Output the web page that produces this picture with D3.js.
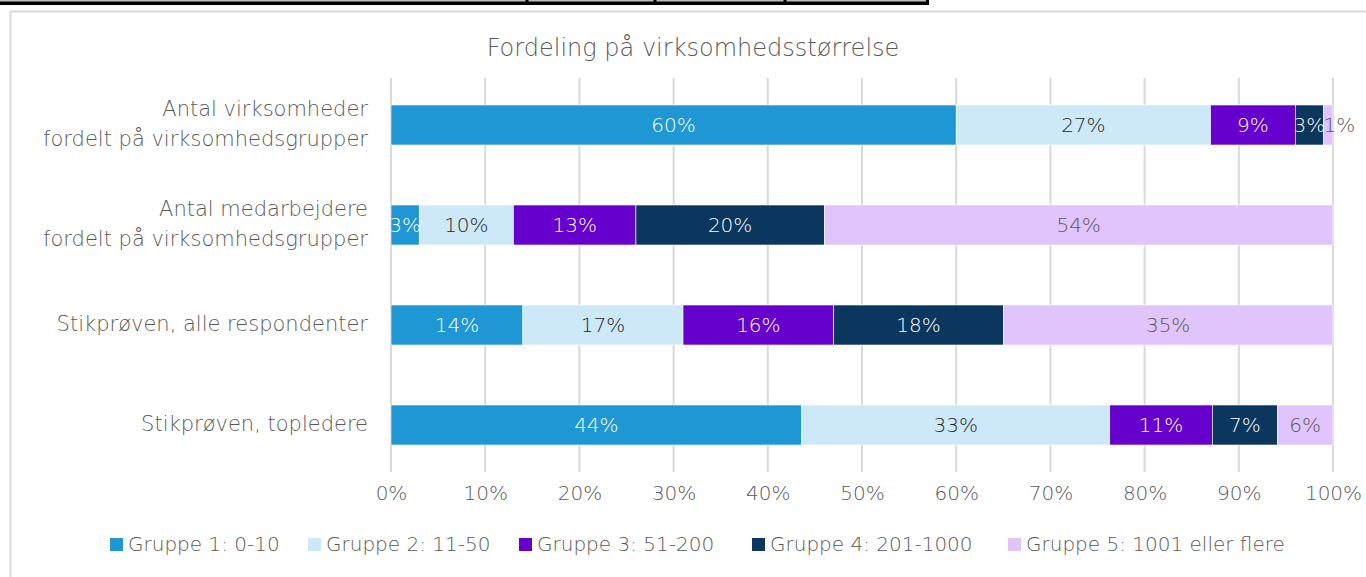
<!DOCTYPE html>
<html><head><meta charset="utf-8">
<script src="https://cdn.jsdelivr.net/npm/d3@7"></script>
<style>
html,body{margin:0;padding:0;background:#fff;}
svg{display:block;}
text{font-family:"DejaVu Sans",sans-serif;font-weight:200;}
</style></head>
<body><svg id="c" width="1366" height="577"></svg>
<script>
const title = "Fordeling på virksomhedsstørrelse";
const categories = [
  ["Antal virksomheder","fordelt på virksomhedsgrupper"],
  ["Antal medarbejdere","fordelt på virksomhedsgrupper"],
  ["Stikprøven, alle respondenter"],
  ["Stikprøven, topledere"]
];
const seriesNames = ["Gruppe 1: 0-10","Gruppe 2: 11-50","Gruppe 3: 51-200","Gruppe 4: 201-1000","Gruppe 5: 1001 eller flere"];
const gruppe1 = [60, 3, 14, 43.6];
const gruppe2 = [27, 10, 17, 32.7];
const gruppe3 = [9, 13, 16, 10.9];
const gruppe4 = [3, 20, 18, 6.9];
const gruppe5 = [1, 54, 35, 5.9];
const tickValues = [0,0.1,0.2,0.3,0.4,0.5,0.6,0.7,0.8,0.9,1];
const colors = ["#1f97d4","#cde9f8","#6600cc","#0b365e","#e0c4fb"];
const labelColors = ["#ffffff","#262626","#ffffff","#ffffff","#595959"];

const svg = d3.select("#c");

// top table fragment
svg.append("rect").attr("x",0).attr("y",0).attr("width",929).attr("height",5).attr("fill","#000");
svg.append("rect").attr("x",0).attr("y",0).attr("width",929).attr("height",1.5).attr("fill","#bdbdbd");
[527,655,785].forEach(x=>svg.append("rect").attr("x",x-1.5).attr("y",0).attr("width",3).attr("height",2).attr("fill","#000"));
svg.append("rect").attr("x",926).attr("y",0).attr("width",3).attr("height",5).attr("fill","#000");

// chart frame
svg.append("path").attr("d","M10.5,577 V11.5 H1366").attr("fill","none").attr("stroke","#d9d9d9").attr("stroke-width",2);

svg.append("text").attr("x",693).attr("y",56).attr("text-anchor","middle")
  .attr("font-size",24).attr("fill","#595959").text(title);

const x = d3.scaleLinear().domain([0,1]).range([391,1333]);
const y = d3.scaleBand().domain(d3.range(categories.length)).range([75,475]).paddingInner(0.6).paddingOuter(0.3);

// gridlines
svg.append("g").selectAll("line").data(tickValues).join("line")
  .attr("x1",d=>x(d)).attr("x2",d=>x(d)).attr("y1",78).attr("y2",472)
  .attr("stroke","#d9d9d9").attr("stroke-width",2);

const rows = categories.map((c,i)=>[gruppe1[i],gruppe2[i],gruppe3[i],gruppe4[i],gruppe5[i]]);
const table = rows.map((r,i)=>{const o={idx:i}; r.forEach((v,j)=>o["s"+j]=v/100); return o;});
const stack = d3.stack().keys(seriesNames.map((_,j)=>"s"+j))(table);

stack.forEach((layer,j)=>{
  const g = svg.append("g");
  g.selectAll("rect").data(layer).join("rect")
    .attr("x",d=>x(d[0])).attr("width",d=>x(d[1])-x(d[0]))
    .attr("y",(d,i)=>y(i)).attr("height",y.bandwidth())
    .attr("fill",colors[j]).attr("stroke","#ffffff").attr("stroke-width",0.6);
});
stack.forEach((layer,j)=>{
  svg.append("g").selectAll("text").data(layer).join("text")
    .attr("x",d=> (d[1]-d[0] < 0.02) ? x(d[0]) : (x(d[0])+x(d[1]))/2)
    .attr("y",(d,i)=>y(i)+y.bandwidth()/2+7)
    .attr("text-anchor",d=> (d[1]-d[0] < 0.02) ? "start" : "middle").attr("font-size",20)
    .attr("fill",labelColors[j])
    .text((d,i)=>Math.round(rows[i][j])+"%");
});

// category labels
categories.forEach((lines,i)=>{
  const cy = y(i)+y.bandwidth()/2;
  const t = svg.append("text").attr("text-anchor","end").attr("font-size",21).attr("fill","#595959");
  const n = lines.length, lh = 30;
  lines.forEach((ln,k)=>{
    t.append("tspan").attr("x",368).attr("y",cy + (k-(n-1)/2)*lh + 6).text(ln);
  });
});

// x axis labels
const ax = d3.axisBottom(x).tickValues(tickValues).tickFormat(d3.format(".0%")).tickSize(0).tickPadding(0);
const axg = svg.append("g").attr("transform","translate(0,486)").call(ax);
axg.select(".domain").remove();
axg.selectAll("text").attr("font-size",20).attr("fill","#595959").attr("font-family","'DejaVu Sans',sans-serif").attr("font-weight",200);

// legend
const legX = [110,308,519,752,1008];
const leg = svg.append("g");
seriesNames.forEach((n,j)=>{
  leg.append("rect").attr("x",legX[j]).attr("y",538).attr("width",13).attr("height",13).attr("fill",colors[j]);
  leg.append("text").attr("x",legX[j]+18).attr("y",551).attr("font-size",20).attr("fill","#595959").text(n);
});
</script></body></html>
